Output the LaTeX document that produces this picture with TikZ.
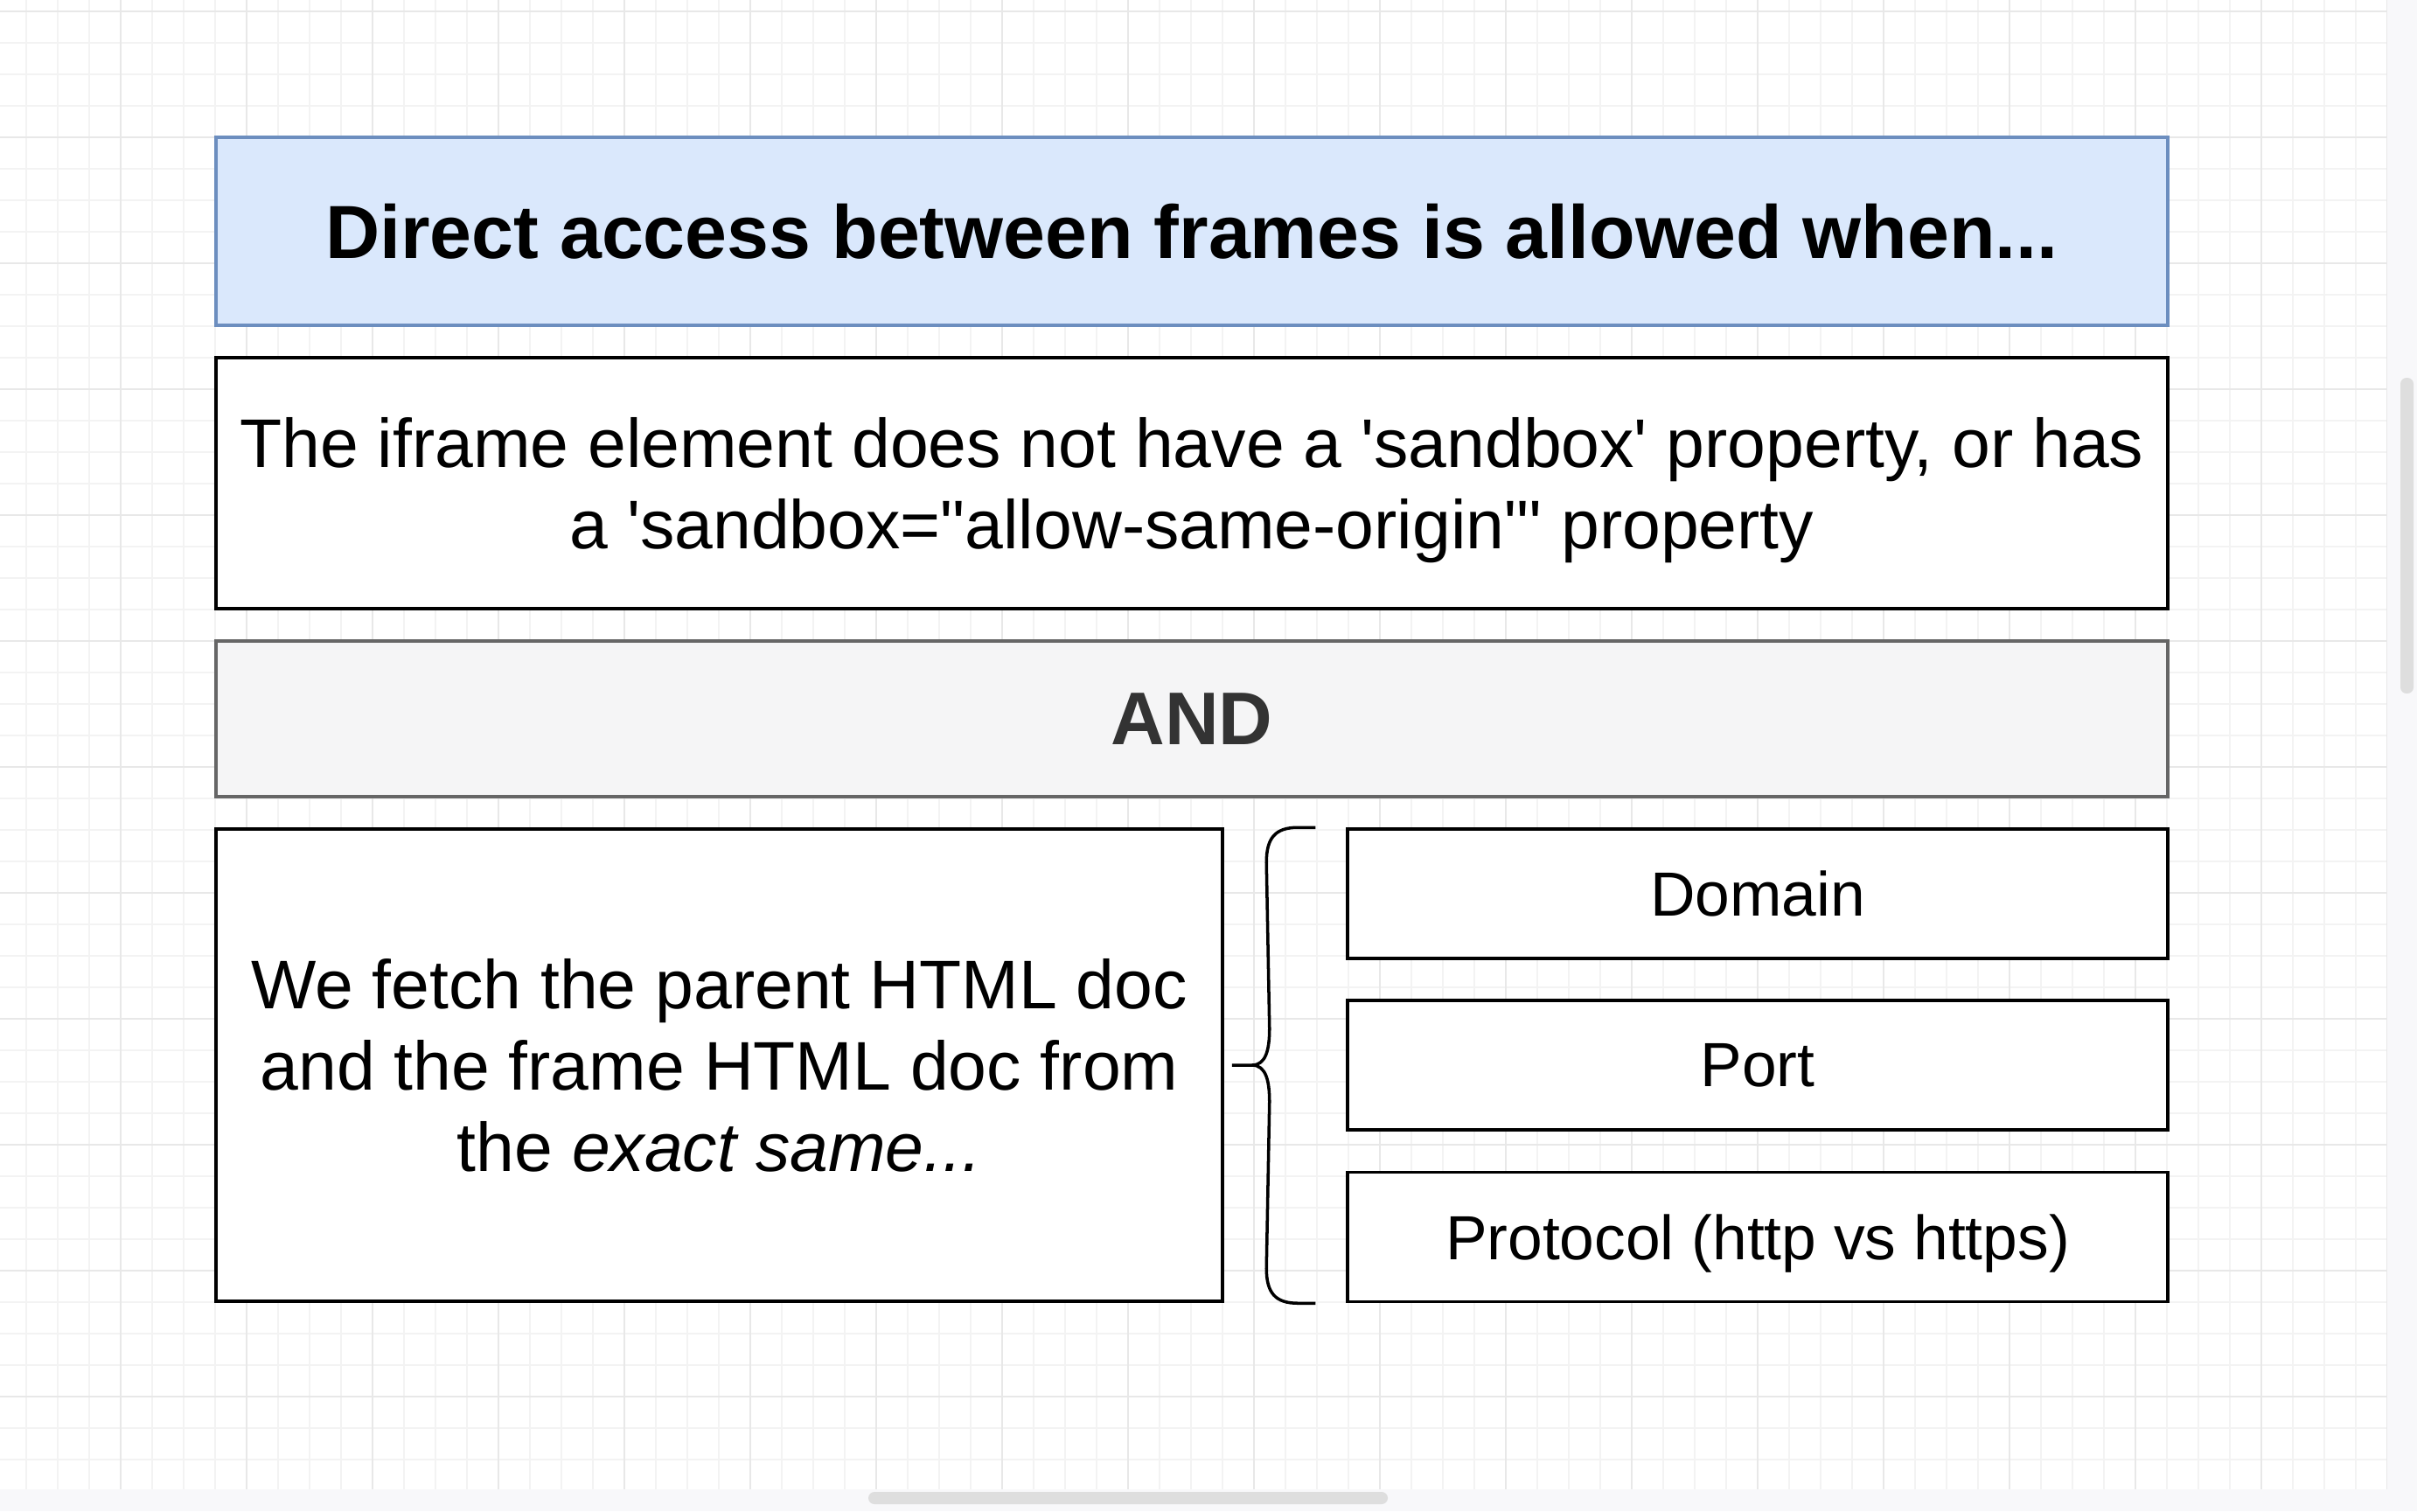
\documentclass[tikz,border=0pt]{standalone}
\usepackage{fontspec}
\setmainfont{Liberation Sans}
\usetikzlibrary{calc}
\definecolor{titleFill}{HTML}{DAE8FC}
\definecolor{titleLine}{HTML}{6C8EBF}
\definecolor{andFill}{HTML}{F5F5F6}
\definecolor{andLine}{HTML}{666666}
\definecolor{andText}{HTML}{333333}
\definecolor{gridMinor}{HTML}{F3F3F3}
\definecolor{gridMajor}{HTML}{E8E8E8}
\definecolor{canvasEdge}{HTML}{F8F8FA}
\definecolor{scrollThumb}{HTML}{DEDEDE}

\begin{document}
\begin{tikzpicture}[
    frameBox/.style={draw=black, line width=1pt, fill=white, inner sep=0pt, align=center, text depth=0pt},
    titleBox/.style={frameBox, draw=titleLine, fill=titleFill, minimum width=22.32cm, minimum height=2.15cm,
        font=\bfseries\fontsize{24.5}{29}\selectfont},
    andBox/.style={frameBox, draw=andLine, fill=andFill, text=andText, minimum width=22.32cm, minimum height=1.78cm,
        font=\bfseries\fontsize{24.3}{29}\selectfont},
    bodyBox/.style={frameBox, font=\fontsize{22.4}{26.5}\selectfont},
    partBox/.style={frameBox, minimum width=9.38cm, minimum height=1.48cm, font=\fontsize{20.3}{24}\selectfont},
    braceLine/.style={draw=black, line width=1pt}
]
\useasboundingbox (0,0) rectangle (27.64,-17.28);
\fill[white] (0,0) rectangle (27.64,-17.28);

% canvas grid
\draw[gridMinor, line width=0.4pt, step=0.36, shift={(0.30,-0.13)}] (-0.30,0.13) grid (27.00,-17.15);
\draw[gridMajor, line width=0.4pt, step=1.44, shift={(1.38,-0.13)}] (-1.38,0.13) grid (25.92,-17.15);
\fill[canvasEdge] (27.30,0) rectangle (27.64,-17.28);
\fill[canvasEdge] (0,-17.03) rectangle (27.30,-17.28);
\fill[scrollThumb, rounded corners=0.07cm] (27.45,-4.32) rectangle (27.60,-7.93);
\fill[scrollThumb, rounded corners=0.07cm] (9.93,-17.06) rectangle (15.87,-17.20);

% heading and the two conditions
\node[titleBox] (title) at (13.63,-2.645) {Direct access between frames is allowed when...};
\node[bodyBox, minimum width=22.32cm, minimum height=2.87cm] (sandbox) at (13.63,-5.525)
    {The iframe element does not have a \textquotesingle sandbox\textquotesingle\ property, or has\\
     a \textquotesingle sandbox=\textquotedbl allow-same-origin\textquotedbl\textquotesingle\ property};
\node[andBox] (and) at (13.63,-8.22) {AND};
\node[bodyBox, minimum width=11.51cm, minimum height=5.40cm] (origin) at (8.225,-12.18)
    {We fetch the parent HTML doc\\and the frame HTML doc from\\the \textit{exact same...}};

% parts of the origin
\node[partBox] (domain) at (20.10,-10.22) {Domain};
\node[partBox] (port) at (20.10,-12.18) {Port};
\node[partBox] (protocol) at (20.10,-14.145) {Protocol (http vs https)};

% curly bracket
\coordinate (braceTop) at ($(domain.north west)+(-0.35,0)$);
\coordinate (braceTip) at ($(origin.east)+(0.09,0)$);
\coordinate (braceBot) at ($(protocol.south west)+(-0.35,0)$);
\draw[braceLine] (braceTop) -- ++(-0.20,0)
    .. controls +(-0.26,0) and +(0,0.28) .. ++(-0.36,-0.40)
    -- ($(braceTip)+(0.43,0.42)$)
    .. controls +(0,-0.24) and +(0.16,0) .. ($(braceTip)+(0.23,0)$)
    -- (braceTip);
\draw[braceLine] (braceBot) -- ++(-0.20,0)
    .. controls +(-0.26,0) and +(0,-0.28) .. ++(-0.36,0.40)
    -- ($(braceTip)+(0.43,-0.42)$)
    .. controls +(0,0.24) and +(0.16,0) .. ($(braceTip)+(0.23,0)$);
\end{tikzpicture}
\end{document}
